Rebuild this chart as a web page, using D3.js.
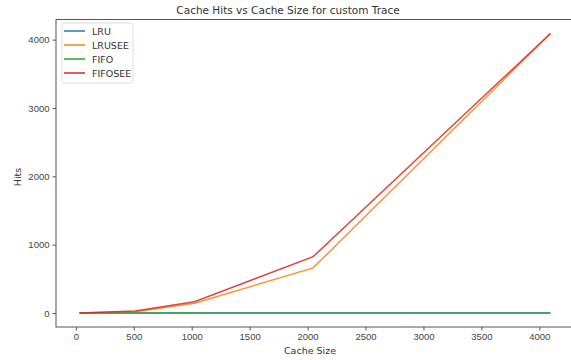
<!DOCTYPE html>
<html>
<meta charset="utf-8">
<title>Cache Hits vs Cache Size</title>
<style>
  body { margin: 0; background: #fff; }
  svg { font-family: "DejaVu Sans", sans-serif; }
  .axis path, .axis line { stroke: #555; }
  .axis text { fill: #444; font-size: 9.5px; }
</style>
<body>
<div id="chart"></div>
<script src="https://d3js.org/d3.v7.min.js"></script>
<script>
  // cache sizes on the x axis
  const cacheSizes = [32, 512, 1024, 2048, 4096];

  // hits per policy
  const lru     = [0, 0, 0, 0, 0];
  const lruSee  = [0, 20, 142, 661, 4090];
  const fifo    = [0, 0, 0, 0, 0];
  const fifoSee = [0, 30, 165, 824, 4090];

  const seriesNames = ['LRU', 'LRUSEE', 'FIFO', 'FIFOSEE'];
  const seriesColors = ['#1f77b4', '#ff7f0e', '#2ca02c', '#d62728'];
  const seriesValues = [lru, lruSee, fifo, fifoSee];

  const xTicks = [0, 500, 1000, 1500, 2000, 2500, 3000, 3500, 4000];
  const yTicks = [0, 1000, 2000, 3000, 4000];

  const W = 571, H = 360;
  const margin = {top: 19.5, right: -3, bottom: 33, left: 56};

  const svg = d3.select('#chart').append('svg')
    .attr('width', W)
    .attr('height', H);

  // matplotlib style 5% padding around the data
  const xMin = d3.min(cacheSizes), xMax = d3.max(cacheSizes);
  const yMin = 0, yMax = d3.max(seriesValues.flat());
  const xPad = (xMax - xMin) * 0.05, yPad = (yMax - yMin) * 0.05;

  const x = d3.scaleLinear()
    .domain([xMin - xPad, xMax + xPad])
    .range([margin.left, W - margin.right]);
  const y = d3.scaleLinear()
    .domain([yMin - yPad, yMax + yPad])
    .range([H - margin.bottom, margin.top]);

  // frame
  svg.append('rect')
    .attr('x', margin.left)
    .attr('y', margin.top)
    .attr('width', W - margin.right - margin.left)
    .attr('height', H - margin.bottom - margin.top)
    .attr('fill', 'none')
    .attr('stroke', '#555')
    .attr('stroke-width', 1);

  svg.append('g')
    .attr('class', 'axis')
    .attr('transform', `translate(0,${H - margin.bottom})`)
    .call(d3.axisBottom(x).tickValues(xTicks).tickSizeOuter(0).tickSize(3.5).tickPadding(3).tickFormat(d3.format('d')))
    .call(g => g.select('.domain').remove());

  svg.append('g')
    .attr('class', 'axis')
    .attr('transform', `translate(${margin.left},0)`)
    .call(d3.axisLeft(y).tickValues(yTicks).tickSizeOuter(0).tickSize(3.5).tickPadding(3).tickFormat(d3.format('d')))
    .call(g => g.select('.domain').remove());

  const line = d3.line()
    .x((d, i) => x(cacheSizes[i]))
    .y(d => y(d));

  seriesValues.forEach((vals, k) => {
    svg.append('path')
      .datum(vals)
      .attr('fill', 'none')
      .attr('stroke', seriesColors[k])
      .attr('stroke-width', 1.5)
      .attr('stroke-opacity', 0.85)
      .attr('d', line);
  });

  // title and axis labels
  svg.append('text')
    .attr('x', 288).attr('y', 14)
    .attr('text-anchor', 'middle')
    .attr('font-size', 10.5).attr('fill', '#333')
    .text('Cache Hits vs Cache Size for custom Trace');

  svg.append('text')
    .attr('x', 310).attr('y', 354)
    .attr('text-anchor', 'middle')
    .attr('font-size', 9.5).attr('fill', '#333')
    .text('Cache Size');

  svg.append('text')
    .attr('transform', 'translate(21,177) rotate(-90)')
    .attr('text-anchor', 'middle')
    .attr('font-size', 9.5).attr('fill', '#333')
    .text('Hits');

  // legend
  const legend = svg.append('g').attr('transform', 'translate(62,23)');
  legend.append('rect')
    .attr('width', 71).attr('height', 60)
    .attr('rx', 2)
    .attr('fill', '#fff').attr('fill-opacity', 0.8)
    .attr('stroke', '#ddd');

  seriesNames.forEach((name, k) => {
    const row = legend.append('g').attr('transform', `translate(0,${8 + k * 14})`);
    row.append('line')
      .attr('x1', 2).attr('x2', 23)
      .attr('stroke', seriesColors[k])
      .attr('stroke-width', 1.5);
    row.append('text')
      .attr('x', 30).attr('y', 3.5)
      .attr('font-size', 9.5).attr('fill', '#333')
      .text(name);
  });
</script>
</body>
</html>
